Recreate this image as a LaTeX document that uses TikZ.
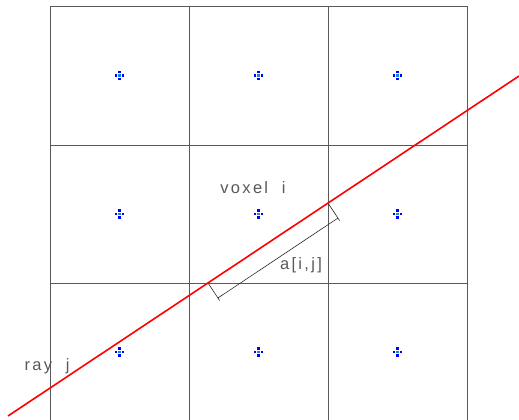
\documentclass[tikz,border=0pt]{standalone}
\usepackage{fontspec}
\setmainfont{Liberation Sans}
\usetikzlibrary{positioning}

\begin{document}
\begin{tikzpicture}[
x=1pt, y=-1pt,
gridline/.style={draw=black!65, line width=0.9pt},
ray/.style={draw=red, line width=1.6pt},
dimline/.style={draw=black!85, line width=0.6pt},
tag/.style={text=black!65, inner sep=0pt, font=\fontsize{16.5}{16.5}\selectfont\addfontfeature{LetterSpace=14}},
vox/.style={minimum size=11pt, inner sep=0pt, path picture={
  \fill[blue] (path picture bounding box.center) ++(-4.6pt,-1.1pt) rectangle ++(2.2pt,2.2pt);
  \fill[blue] (path picture bounding box.center) ++(2.4pt,-1.1pt) rectangle ++(2.2pt,2.2pt);
  \fill[blue] (path picture bounding box.center) ++(-1.1pt,-4.6pt) rectangle ++(2.2pt,2.2pt);
  \fill[blue] (path picture bounding box.center) ++(-1.1pt,2.4pt) rectangle ++(2.2pt,2.2pt);
  \fill[cyan!70!blue] (path picture bounding box.center) ++(-1.1pt,-1.1pt) rectangle ++(2.2pt,2.2pt);}}
]
\useasboundingbox (0,0) rectangle (519,420);

% voxel grid
\draw[gridline] (50,6) -- (467,6);
\draw[gridline] (50,145) -- (467,145);
\draw[gridline] (50,283) -- (467,283);
\draw[gridline] (50,6) -- (50,420);
\draw[gridline] (189,6) -- (189,420);
\draw[gridline] (328,6) -- (328,420);
\draw[gridline] (467,6) -- (467,420);

% voxel centres
\node[vox] (v11) at (119.5,75.5) {};
\node[vox] (v12) at (258.5,75.5) {};
\node[vox] (v13) at (397.5,75.5) {};
\node[vox] (v21) at (119.5,214) {};
\node[vox] (v22) at (258.5,214) {};
\node[vox] (v23) at (397.5,214) {};
\node[vox] (v31) at (119.5,352) {};
\node[vox] (v32) at (258.5,352) {};
\node[vox] (v33) at (397.5,352) {};

\node[tag] (voxlabel) at (253,188) {voxel~~i};
\node[tag] (raylabel) at (47,366) {ray~~j};
\node[tag] (alabel) at (301,265) {a[i,j]};

% ray and path length through voxel
\coordinate (rayin) at (8,416);
\coordinate (rayout) at (519,76);
\coordinate (hitlo) at (208,283);
\coordinate (hithi) at (328,203.1);
\coordinate (dimlo) at (217.9,298);
\coordinate (dimhi) at (337.9,218.1);
\coordinate (extlo) at (219.6,300.5);
\coordinate (exthi) at (339.6,220.6);

\draw[dimline] (hitlo) -- (extlo);
\draw[dimline] (hithi) -- (exthi);
\draw[dimline] (dimlo) -- (dimhi);
\draw[ray] (rayin) -- (rayout);
\end{tikzpicture}
\end{document}
